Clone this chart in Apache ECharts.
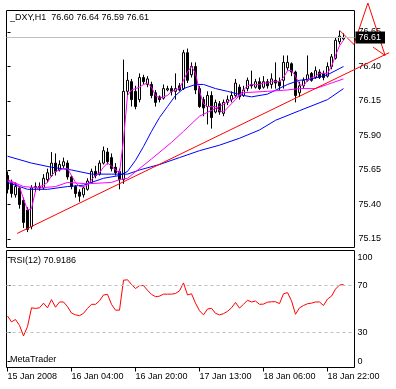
<!DOCTYPE html>
<html><head><meta charset="utf-8">
<script src="https://cdn.jsdelivr.net/npm/echarts@6/dist/echarts.min.js"></script>
<style>html,body{margin:0;padding:0;background:#fff}#c{width:396px;height:389px}</style>
</head><body><div id="c"></div>
<script>
// ---- data ----
const symbolName = '_DXY,H1';
const tickIdx = [0, 16, 32, 48, 64, 80];
const tickLabels = ['15 Jan 2008', '16 Jan 04:00', '16 Jan 20:00', '17 Jan 13:00', '18 Jan 06:00', '18 Jan 22:00'];
const priceTicks = [75.15, 75.40, 75.65, 75.90, 76.15, 76.40, 76.65];
const rsiTicks = [0, 30, 70, 100];

const open = [75.61,75.56,75.47,75.52,75.43,75.36,75.24,75.52,75.53,75.52,
75.58,75.61,75.70,75.65,75.68,75.70,75.60,75.53,75.49,75.47,
75.51,75.56,75.64,75.62,75.70,75.78,75.74,75.67,75.64,75.58,
76.22,76.29,76.22,76.16,76.32,76.27,76.27,76.21,76.18,76.17,
76.23,76.24,76.22,76.26,76.24,76.50,76.34,76.40,76.24,76.16,
76.11,76.19,76.07,76.13,76.06,76.14,76.16,76.19,76.25,76.19,
76.24,76.27,76.25,76.29,76.25,76.29,76.27,76.30,76.29,76.30,
76.39,76.42,76.36,76.21,76.26,76.30,76.35,76.32,76.36,76.35,
76.33,76.40,76.46,76.58,76.60];
const high = [75.64,75.58,75.56,75.53,75.45,75.38,75.54,75.56,75.56,75.62,
75.66,75.78,75.77,75.72,75.74,75.72,75.61,75.54,75.51,75.53,
75.59,75.66,75.68,75.72,75.82,75.81,75.77,75.70,75.66,76.45,
76.36,76.31,76.26,76.35,76.34,76.33,76.29,76.23,76.19,76.27,
76.26,76.26,76.35,76.28,76.52,76.53,76.43,76.43,76.26,76.18,
76.22,76.22,76.16,76.15,76.16,76.19,76.22,76.31,76.27,76.26,
76.32,76.37,76.31,76.32,76.33,76.31,76.35,76.43,76.32,76.48,
76.48,76.43,76.37,76.29,76.32,76.48,76.36,76.40,76.38,76.37,
76.43,76.49,76.61,76.66,76.64];
const low = [75.48,75.45,75.45,75.37,75.23,75.20,75.22,75.49,75.50,75.51,
75.56,75.60,75.61,75.64,75.66,75.58,75.51,75.45,75.42,75.45,
75.50,75.55,75.59,75.61,75.69,75.69,75.64,75.61,75.51,75.55,
76.19,76.11,76.09,76.14,76.27,76.25,76.17,76.11,76.14,76.16,
76.22,76.19,76.16,76.22,76.23,76.28,76.32,76.20,76.10,76.04,
75.98,75.95,76.06,76.05,76.04,76.12,76.14,76.18,76.16,76.18,
76.22,76.24,76.24,76.23,76.24,76.24,76.24,76.24,76.23,76.24,
76.37,76.33,76.14,76.18,76.24,76.29,76.29,76.31,76.31,76.30,
76.32,76.38,76.45,76.56,76.59];
const close = [75.51,75.48,75.53,75.40,75.27,75.22,75.52,75.53,75.52,75.59,
75.63,75.70,75.64,75.69,75.71,75.60,75.53,75.48,75.46,75.52,
75.57,75.64,75.61,75.70,75.79,75.71,75.66,75.63,75.58,76.22,
76.30,76.16,76.11,76.32,76.29,76.31,76.19,76.14,76.16,76.24,
76.24,76.22,76.24,76.23,76.50,76.30,76.40,76.23,76.11,76.10,
76.19,76.03,76.14,76.07,76.14,76.16,76.19,76.28,76.18,76.23,
76.30,76.26,76.29,76.24,76.29,76.26,76.31,76.28,76.26,76.43,
76.43,76.36,76.19,76.26,76.30,76.34,76.30,76.37,76.32,76.32,
76.40,76.47,76.59,76.62,76.61];

// fast magenta moving average (one value per bar)
const maFast = [75.57,75.56,75.55,75.53,75.44,75.36,75.37,75.50,75.53,75.54,
75.56,75.61,75.64,75.65,75.66,75.66,75.61,75.56,75.53,75.53,
75.54,75.58,75.61,75.63,75.67,75.70,75.68,75.65,75.63,75.87,
76.19,76.23,76.24,76.25,76.27,76.28,76.25,76.19,76.17,76.18,
76.19,76.22,76.23,76.24,76.30,76.36,76.40,76.35,76.22,76.13,
76.11,76.11,76.11,76.08,76.07,76.10,76.13,76.16,76.19,76.23,
76.26,76.27,76.27,76.27,76.28,76.28,76.29,76.29,76.29,76.32,
76.37,76.37,76.33,76.27,76.26,76.30,76.32,76.33,76.35,76.35,
76.35,76.40,76.48,76.55,76.59];
// slow magenta moving average (read at these bars)
const maSlowIdx = [0,4,8,12,15,20,26,28,30,36,41,44,48,53,59,65,70,73,77,80,84];
const maSlowVal = [75.58,75.53,75.52,75.53,75.56,75.55,75.56,75.58,75.59,75.73,75.85,75.93,76.04,76.11,76.21,76.22,76.23,76.24,76.24,76.27,76.31];
// faster blue moving average
const maBlueAIdx = [0,5,10,15,19,24,28,30,32,34,36,38,40,42,44,47,49,52,55,59,61,65,70,73,76,80,84];
const maBlueAVal = [75.56,75.51,75.51,75.53,75.54,75.59,75.61,75.64,75.72,75.82,75.93,76.03,76.11,76.19,76.24,76.27,76.27,76.24,76.22,76.19,76.18,76.20,76.27,76.30,76.31,76.34,76.40];
// slow blue moving average
const maBlueBIdx = [0,6,11,16,21,26,30,33,38,43,48,53,58,63,67,73,80,84];
const maBlueBVal = [75.75,75.70,75.67,75.65,75.62,75.62,75.62,75.65,75.69,75.74,75.79,75.83,75.88,75.94,76.01,76.08,76.16,76.24];
// RSI(12)
const rsi = [44,39,41,36,27,35,51,50.5,51,55,
51,58,51.5,56,56,52,46.5,45,44.3,46.3,
50.5,54,54,57,62,62.5,54,49,49,74.6,
75,71,67.5,70,70,66,62.5,60.5,61,62.7,
62.7,62.7,63.3,65.5,72.3,62,63,55,48.5,45,
50,50.6,46.3,45,46,48,51,55.6,50.8,54,
57.5,56,56.8,54,54.2,55.8,56.2,56.2,54.6,63,
64,57,45.5,51,53,54.5,55,56,56,53,
58.5,61,67,70.5,70.9186];
// drawn objects: trend line and red arrow shape (bar index, price)
const trendIdx = [2.4, 95.4];
const trendVal = [75.19, 76.50];
const zigIdx = [83.1, 86.6, 90.1, 94.4];
const zigVal = [76.66, 76.56, 76.86, 76.48];
const headIdx = [91.4, 94.4];
const headVal = [76.54, 76.48];

// ---- chart ----
const FONT = 'Liberation Sans';
const n = close.length;
const last = n - 1;
const candles = open.map((o, i) => [i, o, close[i], low[i], high[i]]);
const pairs = (xs, ys) => xs.map((x, i) => [x, ys[i]]);
const header = symbolName + '  ' + [open[last], high[last], low[last], close[last]].map(v => v.toFixed(2)).join(' ');

const chart = echarts.init(document.getElementById('c'), null, {renderer: 'canvas'});
const txt = {color: '#000', fontSize: 9, fontFamily: FONT, fontWeight: 'normal'};
const PMIN = 75.0884, PMAX = 76.8058;          // main price scale (138 px per unit)
const PMAX_OV = PMAX + 10 / 138;                  // same scale, extended 10px upward
chart.setOption({
  animation: false,
  backgroundColor: '#fff',
  title: [
    {text: header, left: 10, top: 13, padding: 0, textStyle: txt},
    {text: 'RSI(12) ' + rsi[last], left: 10, top: 256, padding: 0, textStyle: txt},
    {text: 'MetaTrader', left: 10, top: 355, padding: 0, textStyle: txt}
  ],
  grid: [
    {left: 6.5, top: 10.5, width: 348, height: 237, show: true, borderColor: '#000', borderWidth: 1, backgroundColor: '#fff'},
    {left: 6.5, top: 250.5, width: 348, height: 117, show: true, borderColor: '#000', borderWidth: 1, backgroundColor: '#fff'},
    // overlay grid with the same scales, wider, for the drawn objects that leave the chart box
    {left: 6.5, top: 0.5, width: 388, height: 247, show: false}
  ],
  xAxis: [
    {gridIndex: 0, type: 'value', min: -0.25, max: 86.75, show: false},
    {gridIndex: 1, type: 'value', min: -0.25, max: 86.75,
      splitLine: {show: false}, axisLine: {show: false},
      axisTick: {show: true, customValues: tickIdx, length: 4, lineStyle: {color: '#000'}},
      axisLabel: {customValues: tickIdx, formatter: v => tickLabels[tickIdx.indexOf(v)], align: 'left', margin: 5, ...txt}},
    {gridIndex: 2, type: 'value', min: -0.25, max: 96.75, show: false}
  ],
  yAxis: [
    {gridIndex: 0, type: 'value', position: 'right', min: PMIN, max: PMAX,
      splitLine: {show: false}, axisLine: {show: false},
      axisTick: {show: true, customValues: priceTicks, length: 3, lineStyle: {color: '#000'}},
      axisLabel: {customValues: priceTicks, formatter: v => v.toFixed(2), margin: 4, ...txt}},
    {gridIndex: 1, type: 'value', position: 'right', min: 0, max: 100,
      splitLine: {show: false}, axisLine: {show: false},
      axisTick: {show: true, customValues: [5, 30, 70, 94], length: 3, lineStyle: {color: '#000'}},
      axisLabel: {customValues: rsiTicks, margin: 3, ...txt,
        formatter: v => v === 100 ? '{t|100}' : (v === 0 ? '{b|0}' : String(v)),
        rich: {t: {padding: [15, 0, 0, 0], ...txt}, b: {padding: [0, 0, 11, 0], ...txt}}}},
    {gridIndex: 2, type: 'value', min: PMIN, max: PMAX_OV, show: false}
  ],
  series: [
    {type: 'candlestick', xAxisIndex: 0, yAxisIndex: 0, data: candles, barWidth: 3,
      itemStyle: {color: '#fff', color0: '#000', borderColor: '#000', borderColor0: '#000', borderWidth: 1},
      markLine: {silent: true, symbol: 'none', animation: false,
        data: [{yAxis: close[last]}],
        lineStyle: {color: '#c0c0c0', type: 'solid', width: 1},
        label: {position: 'end', distance: 1, formatter: close[last].toFixed(2), color: '#fff', backgroundColor: '#000',
          padding: [2, 4, 1, 3], fontSize: 9, fontFamily: FONT},
        emphasis: {disabled: true}}},
    {type: 'line', xAxisIndex: 0, yAxisIndex: 0, data: pairs(maBlueBIdx, maBlueBVal), showSymbol: false, lineStyle: {color: '#0000ff', width: 1}},
    {type: 'line', xAxisIndex: 0, yAxisIndex: 0, data: pairs(maBlueAIdx, maBlueAVal), showSymbol: false, lineStyle: {color: '#0000ff', width: 1}},
    {type: 'line', xAxisIndex: 0, yAxisIndex: 0, data: pairs(maSlowIdx, maSlowVal), showSymbol: false, lineStyle: {color: '#ff00ff', width: 1}},
    {type: 'line', xAxisIndex: 0, yAxisIndex: 0, data: maFast.map((v, i) => [i, v]), showSymbol: false, lineStyle: {color: '#ff00ff', width: 1}},
    {type: 'line', xAxisIndex: 2, yAxisIndex: 2, data: pairs(trendIdx, trendVal), showSymbol: false, clip: false, lineStyle: {color: '#ff0000', width: 1}},
    {type: 'line', xAxisIndex: 2, yAxisIndex: 2, data: pairs(zigIdx, zigVal), showSymbol: false, clip: false, lineStyle: {color: '#ff0000', width: 1}},
    {type: 'line', xAxisIndex: 2, yAxisIndex: 2, data: pairs(headIdx, headVal), showSymbol: false, clip: false, lineStyle: {color: '#ff0000', width: 1}},
    {type: 'line', xAxisIndex: 1, yAxisIndex: 1, data: rsi.map((v, i) => [i, v]), showSymbol: false, lineStyle: {color: '#ff0000', width: 1},
      markLine: {silent: true, symbol: 'none', animation: false, data: [{yAxis: 70}, {yAxis: 30}],
        lineStyle: {color: '#c0c0c0', type: [3, 3], width: 1}, label: {show: false}, emphasis: {disabled: true}}}
  ]
});
</script></body></html>
